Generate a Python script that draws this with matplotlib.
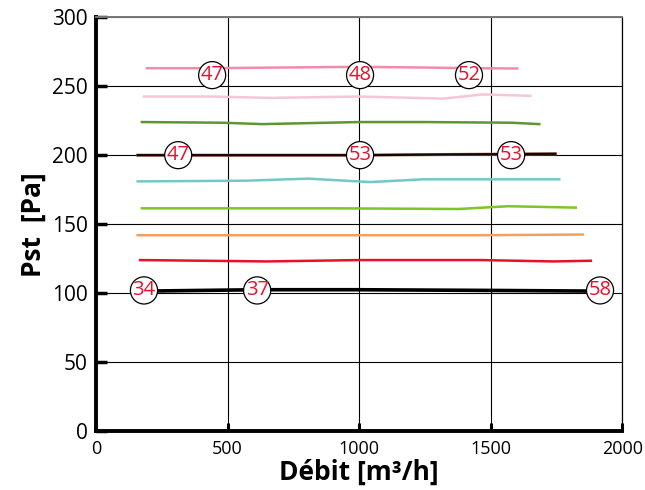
import matplotlib.pyplot as plt

plt.rcParams["font.family"] = ["Open Sans", "DejaVu Sans"]

# series (debit m3/h, Pst Pa)
pink_x = [193, 440, 700, 1000, 1250, 1420, 1600]
pink_y = [263, 263, 263.5, 264, 263.5, 263, 262.8]
lpink_x = [182, 440, 660, 1000, 1320, 1470, 1650]
lpink_y = [242.5, 242.5, 241.5, 242.5, 241, 244, 243]
dgreen_x = [174, 480, 632, 1000, 1250, 1580, 1684]
dgreen_y = [224, 223.5, 222.5, 224, 224, 223.5, 222.5]
brown_x = [158, 560, 1000, 1330, 1745]
brown_y = [200, 200, 200, 200.5, 201]
teal_x = [158, 570, 806, 1041, 1243, 1760]
teal_y = [181, 181.5, 183, 180.5, 182.5, 182.5]
lgreen_x = [174, 900, 1376, 1566, 1823]
lgreen_y = [161.5, 161.5, 161, 163, 162]
orange_x = [158, 600, 1000, 1470, 1849]
orange_y = [142, 142, 142, 142, 142.5]
red_x = [167, 649, 1000, 1460, 1737, 1880]
red_y = [124, 123, 124, 124, 123, 123.5]
black_x = [182, 612, 1000, 1500, 1900]
black_y = [101.5, 102.5, 102.5, 102, 101.5]

# circled labels
label_x = [441, 1003, 1417, 312, 1003, 1577, 182, 612, 1915]
label_y = [258, 258, 258, 200, 200, 200, 102, 102, 102]
label_txt = ["47", "48", "52", "47", "53", "53", "34", "37", "58"]

series = [
    (pink_x, pink_y, "#F08CAA"),
    (lpink_x, lpink_y, "#F7C6D6"),
    (dgreen_x, dgreen_y, "#5E9632"),
    (teal_x, teal_y, "#72C8C8"),
    (lgreen_x, lgreen_y, "#7DC623"),
    (orange_x, orange_y, "#F0A060"),
    (red_x, red_y, "#E8102A"),
]

fig = plt.figure(figsize=(6.45, 4.9), dpi=100)
ax = fig.add_axes([0.149, 0.12, 0.816, 0.845])

for xs, ys, c in series:
    ax.plot(xs, ys, color=c, lw=1.8, zorder=3)
ax.plot(brown_x, brown_y, color="#B07050", lw=2.2, zorder=3)
ax.plot(brown_x, brown_y, color="#120600", lw=1.6, zorder=3)
ax.plot(black_x, black_y, color="black", lw=2.6, zorder=3)

for x, y, t in zip(label_x, label_y, label_txt):
    ax.text(x, y, t, color="#E8102A", fontsize=14.5, ha="center", va="center", zorder=5,
            bbox=dict(boxstyle="circle,pad=0.1", fc="white", ec="black", lw=0.9))

ax.set_xlim(0, 2000)
ax.set_ylim(0, 300)
ax.set_xticks([0, 500, 1000, 1500, 2000])
ax.set_yticks([0, 50, 100, 150, 200, 250, 300])
ax.grid(True, color="black", lw=0.8, zorder=1)
ax.set_axisbelow(True)

ax.spines["left"].set_linewidth(2.8)
ax.spines["bottom"].set_linewidth(2.8)
ax.spines["top"].set_color("#777777")
ax.spines["top"].set_linewidth(1.4)
ax.spines["right"].set_linewidth(0.9)

ax.tick_params(axis="y", direction="in", length=8, width=2.5, labelsize=15, pad=6)
ax.tick_params(axis="x", direction="in", length=6, width=2.2, labelsize=13, pad=6)

ax.set_xlabel("Débit [m³/h]", fontsize=19, fontweight="bold", labelpad=1)
ax.set_ylabel("Pst  [Pa]", fontsize=19, fontweight="bold", labelpad=4)

fig.savefig("out.png", dpi=100)
